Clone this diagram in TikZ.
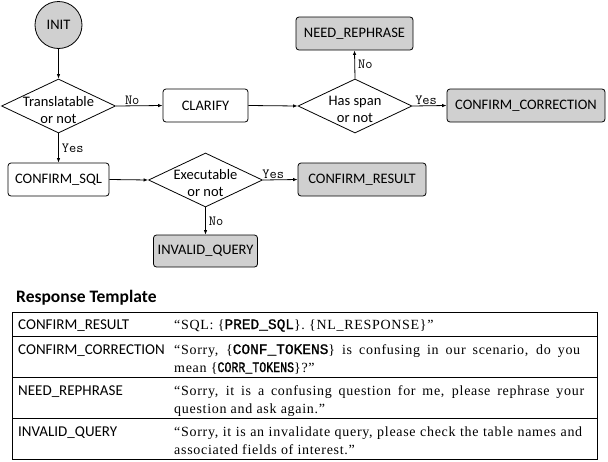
\documentclass[tikz,border=0pt]{standalone}
\usepackage{fontspec}
\usepackage{graphicx}
\setmainfont{Carlito}
\newfontfamily\serifx[LetterSpace=5]{Liberation Serif}
\newfontfamily\tokfont[FakeBold=1.2]{Liberation Mono}
\usetikzlibrary{shapes.geometric,arrows.meta}
\definecolor{termgray}{RGB}{208,208,208}
\newcommand{\tok}[1]{{\tokfont\fontsize{14.5}{18}\selectfont #1}}
\newcommand{\fitline}[2]{\makebox[#1][s]{#2}}
\tikzset{
  box/.style={draw, rounded corners=3pt, line width=0.8pt, minimum height=33pt, inner sep=0pt, font=\fontsize{14.5}{17}\selectfont},
  term/.style={box, fill=termgray},
  decision/.style={draw, diamond, line width=0.8pt, minimum width=114pt, minimum height=54pt, inner sep=0pt},
  dtext/.style={align=center, font=\fontsize{14.5}{17}\selectfont, inner sep=0pt},
  lab/.style={font=\ttfamily\fontsize{14}{16}\selectfont, inner sep=1pt},
  arr/.style={-{Latex[length=4.5pt,width=3.5pt]}, line width=0.8pt},
  colone/.style={anchor=base west, inner sep=0pt, font=\fontsize{15}{18}\selectfont},
  coltwo/.style={anchor=base west, inner sep=0pt, font=\serifx\fontsize{14}{18}\selectfont},
  rule/.style={line width=0.8pt},
}
\begin{document}
\begin{tikzpicture}[x=1pt,y=-1pt]
\useasboundingbox (0,0) rectangle (608,461);
% flowchart
\node[circle, draw, fill=termgray, minimum size=47pt, inner sep=0pt, line width=0.8pt, font=\fontsize{14.5}{17}\selectfont] (init) at (58.5,25) {INIT};
\node[decision] (d1) at (58.5,106) {};
\node[dtext] (d1t) at (58.5,110) {Translatable\\or not};
\node[box, minimum width=85pt] (clarify) at (205.5,105.5) {CLARIFY};
\node[decision] (d2) at (355,106) {};
\node[dtext] (d2t) at (355,109) {Has span\\or not};
\node[term, minimum width=117pt] (need) at (354.5,33.5) {NEED\_REPHRASE};
\node[term, minimum width=158pt] (cc) at (526,105.5) {CONFIRM\_CORRECTION};
\node[box, minimum width=101pt] (csql) at (58.5,179.5) {CONFIRM\_SQL};
\node[decision] (d3) at (205.5,180) {};
\node[dtext] (d3t) at (205.5,183) {Executable\\or not};
\node[term, minimum width=128pt] (cr) at (362,179.5) {CONFIRM\_RESULT};
\node[term, minimum width=104pt, minimum height=32pt] (iq) at (205.5,251) {INVALID\_QUERY};
% connectors
\draw[arr] (init) -- (d1.north);
\draw[arr] (d1.east) -- (clarify.west) node[lab, pos=0.35, above] (l1) {No};
\draw[arr] (clarify.east) -- (d2.west);
\draw[arr] (d2.north) -- (need.south) node[lab, midway, right, xshift=2pt] (l2) {No};
\draw[arr] (d2.east) -- (cc.west) node[lab, pos=0.4, above] (l3) {Yes};
\draw[arr] (d1.south) -- (csql.north) node[lab, midway, right, xshift=2pt] (l4) {Yes};
\draw[arr] (csql.east) -- (d3.west);
\draw[arr] (d3.east) -- (cr.west) node[lab, pos=0.3, above] (l5) {Yes};
\draw[arr] (d3.south) -- (iq.north) node[lab, midway, right, xshift=2pt] (l6) {No};
% table
\node[anchor=base west, inner sep=0pt, font=\bfseries\fontsize{17.5}{20}\selectfont] (title) at (16,302) {Response Template};
\draw[rule] (12,312) rectangle (597,459.5);
\draw[rule] (12,336) -- (597,336);
\draw[rule] (12,377) -- (597,377);
\draw[rule] (12,418) -- (597,418);
\node[colone] (k1) at (18,329) {CONFIRM\_RESULT};
\node[colone] (k2) at (18,354) {CONFIRM\_CORRECTION};
\node[colone] (k3) at (18,395) {NEED\_REPHRASE};
\node[colone] (k4) at (18,436) {INVALID\_QUERY};
\node[coltwo] (v1) at (174,329) {“SQL: \{\tok{PRED\_SQL}\}. \{NL\_RESPONSE\}”};
\node[coltwo] (v2a) at (174,354) {\fitline{406pt}{“Sorry, \{\tok{CONF\_TOKENS}\} is confusing in our scenario, do you}};
\node[coltwo] (v2b) at (174,372) {mean \{\scalebox{0.8}[1]{\tok{CORR\_TOKENS}}\}?”};
\node[coltwo] (v3a) at (174,395) {\fitline{410pt}{“Sorry, it is a confusing question for me, please rephrase your}};
\node[coltwo] (v3b) at (174,413) {question and ask again.”};
\node[coltwo] (v4a) at (174,436) {\fitline{408pt}{“Sorry, it is an invalidate query, please check the table names and}};
\node[coltwo] (v4b) at (174,454) {associated fields of interest.”};
\end{tikzpicture}
\end{document}
